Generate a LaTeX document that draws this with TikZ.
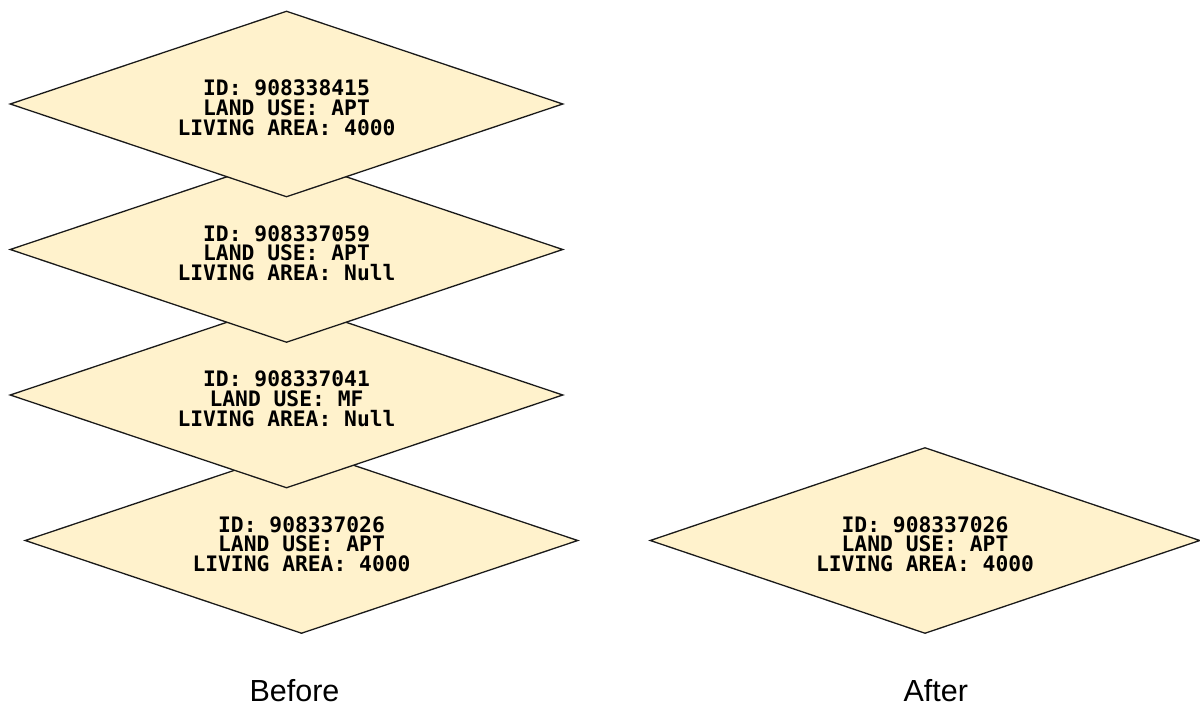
\documentclass[tikz,border=0pt]{standalone}
\usepackage{fontspec}
\setmainfont{Liberation Sans}
\newfontfamily\recfont{DejaVu Sans Mono}
\usetikzlibrary{shapes.geometric}
\definecolor{recfill}{HTML}{FFF2CC}
\definecolor{recline}{HTML}{1A1A1A}
\tikzset{
  recbox/.style={diamond, draw=recline, line width=1.3pt, fill=recfill, inner sep=0pt,
    minimum width=553pt, minimum height=186pt, aspect=2.97},
  rectext/.style={align=center, inner sep=0pt, text=black,
    font=\recfont\bfseries\fontsize{21.3}{19.7}\selectfont},
  caption/.style={anchor=base, inner sep=0pt, text=black,
    font=\fontsize{30.5}{34}\selectfont}
}
\begin{document}
\begin{tikzpicture}[x=1pt,y=-1pt]
\useasboundingbox (0,0) rectangle (1200,706);
% before stack (drawn bottom-up so upper records overlap lower ones)
\node[recbox] (d4) at (301.5,540.5) {};
\node[rectext] (t4) at ([yshift=-3.7pt]d4.center) {ID: 908337026\\LAND USE: APT\\LIVING AREA: 4000};
\node[recbox] (d3) at (286.5,395) {};
\node[rectext] (t3) at ([yshift=-3.7pt]d3.center) {ID: 908337041\\LAND USE: MF\\LIVING AREA: Null};
\node[recbox] (d2) at (286.5,249.5) {};
\node[rectext] (t2) at ([yshift=-3.7pt]d2.center) {ID: 908337059\\LAND USE: APT\\LIVING AREA: Null};
\node[recbox] (d1) at (286.5,104) {};
\node[rectext] (t1) at ([yshift=-3.7pt]d1.center) {ID: 908338415\\LAND USE: APT\\LIVING AREA: 4000};
% after
\node[recbox, minimum width=550pt] (d5) at (925,540.5) {};
\node[rectext] (t5) at ([yshift=-3.7pt]d5.center) {ID: 908337026\\LAND USE: APT\\LIVING AREA: 4000};
% captions
\node[caption] (before) at (294.5,701) {Before};
\node[caption] (after) at (935.7,701) {After};
\end{tikzpicture}
\end{document}
